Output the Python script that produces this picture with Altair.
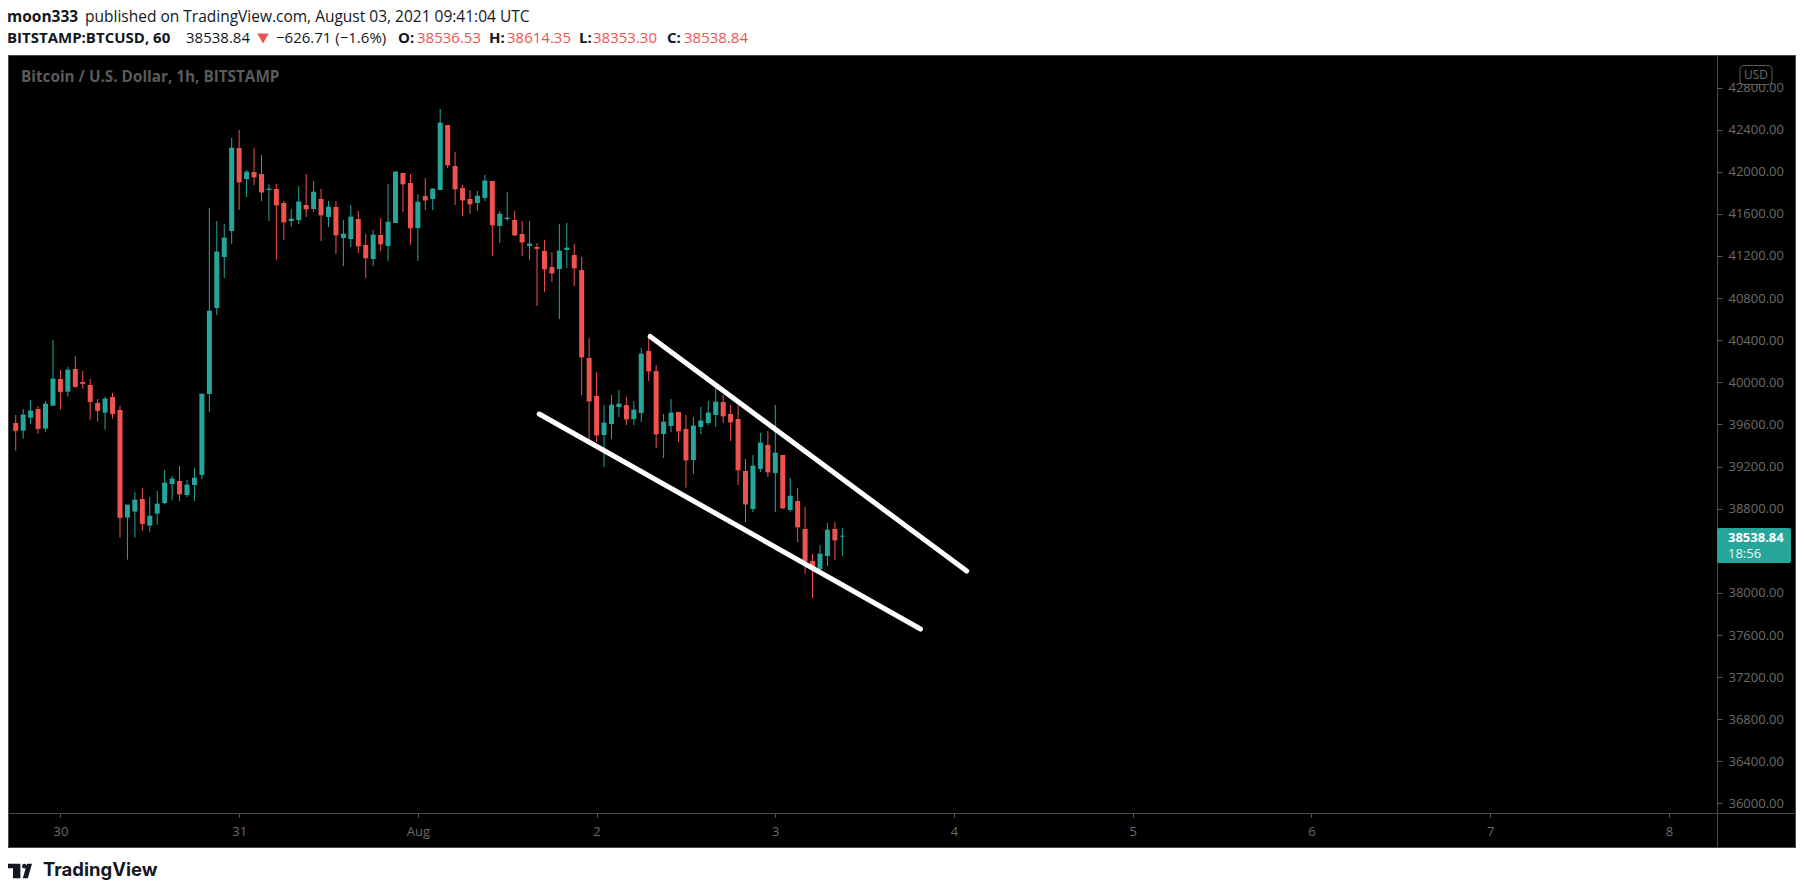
import altair as alt
import pandas as pd

# ---------------- data ----------------
first_bar = "2021-07-29 18:00"   # first hourly candle (UTC)

opens = [39614, 39541, 39664, 39747, 39560, 39778, 40032, 39911, 40127, 40003,
         39975, 39804, 39712, 39861, 39737, 38715, 38772, 38892, 38639, 38753,
         38854, 39034, 39063, 38930, 39025, 39120, 39889, 40706, 41190, 41437,
         42225, 41931, 41997, 41978, 41827, 41836, 41703, 41532, 41541, 41684,
         41646, 41741, 41570, 41665, 41370, 41361, 41551, 41304, 41171, 41399,
         41295, 41513, 41988, 41893, 41465, 41769, 41741, 41826, 42444, 42054,
         41845, 41741, 41703, 41751, 41912, 41485, 41551, 41542, 41409, 41295,
         41285, 41247, 41095, 41076, 41257, 41209, 41067, 40231, 39870, 39499,
         39604, 39765, 39784, 39651, 39709, 40297, 40107, 39509, 39585, 39718,
         39557, 39262, 39576, 39614, 39690, 39813, 39699, 39652, 39158, 38797,
         39177, 39405, 39139, 39310, 38787, 38873, 38607, 38303, 38227, 38350,
         38607, 38536.53]

highs = [39690, 39747, 39832, 39775, 39823, 40402, 40117, 40146, 40250, 40108,
         40032, 39842, 39861, 39899, 39775, 38835, 38958, 38996, 38911, 38968,
         39167, 39110, 39205, 39072, 39186, 39889, 41655, 41532, 41504, 42320,
         42396, 42016, 42225, 42159, 41883, 41883, 41722, 41646, 41864, 41978,
         41912, 41836, 41722, 41722, 41542, 41684, 41627, 41409, 41446, 41560,
         41883, 42007, 41988, 41978, 41788, 41941, 41845, 42596, 42444, 42187,
         41874, 41826, 41817, 41969, 41912, 41627, 41807, 41627, 41532, 41532,
         41323, 41352, 41238, 41504, 41513, 41314, 41190, 40421, 40098, 39784,
         39879, 39927, 39860, 39822, 40326, 40459, 40164, 39699, 39841, 39718,
         39689, 39670, 39766, 39823, 39975, 39880, 39785, 39794, 39272, 39310,
         39519, 39538, 39785, 39310, 39091, 38996, 38816, 38369, 38455, 38664,
         38673, 38614.35]

lows = [39351, 39465, 39604, 39512, 39531, 39778, 39740, 39864, 39949, 39940,
        39645, 39626, 39550, 39655, 38525, 38316, 38525, 38591, 38582, 38648,
        38844, 38882, 38873, 38911, 38873, 39082, 39718, 40639, 40991, 41314,
        41637, 41760, 41874, 41722, 41532, 41162, 41352, 41475, 41504, 41570,
        41618, 41342, 41475, 41219, 41105, 41285, 41228, 40991, 41105, 41247,
        41152, 41513, 41617, 41304, 41152, 41637, 41637, 41826, 42035, 41684,
        41580, 41599, 41627, 41722, 41200, 41323, 41532, 41390, 41200, 41162,
        40725, 40858, 40953, 40601, 41086, 40915, 39879, 39404, 39433, 39196,
        39462, 39670, 39594, 39594, 39623, 40012, 39376, 39281, 39528, 39433,
        39000, 39129, 39509, 39595, 39576, 39614, 39443, 39025, 38673, 38768,
        39148, 39101, 38768, 38797, 38768, 38483, 38179, 37951, 38179, 38255,
        38312, 38353.30]

closes = [39541, 39690, 39728, 39560, 39794, 40032, 39911, 40117, 39959, 39987,
          39816, 39731, 39842, 39702, 38715, 38835, 38882, 38658, 38730, 38844,
          39044, 39082, 38939, 39025, 39091, 39889, 40677, 41238, 41371, 42225,
          41902, 41997, 41950, 41807, 41836, 41684, 41523, 41551, 41713, 41646,
          41807, 41589, 41665, 41399, 41409, 41570, 41295, 41181, 41399, 41314,
          41522, 41997, 41884, 41466, 41712, 41731, 41836, 42463, 42064, 41836,
          41731, 41694, 41769, 41912, 41494, 41598, 41561, 41399, 41333, 41314,
          41269, 41076, 41038, 41247, 41276, 41086, 40240, 39822, 39499, 39614,
          39784, 39794, 39651, 39737, 40269, 40107, 39509, 39623, 39709, 39538,
          39262, 39585, 39633, 39709, 39813, 39680, 39623, 39167, 38844, 39205,
          39424, 39148, 39329, 38806, 38920, 38626, 38303, 38236, 38369, 38597,
          38502, 38538.84]

# hand-drawn trend lines (two points each)
trend_names = ["upper", "upper", "lower", "lower"]
trend_times = ["2021-08-02T07:12:00Z", "2021-08-04T01:42:00Z",
               "2021-08-01T16:18:00Z", "2021-08-03T19:30:00Z"]
trend_prices = [40435, 38208, 39699, 37657]

# 38400 is hidden behind the last-price tag in the reference
price_ticks = [36000, 36400, 36800, 37200, 37600, 38000, 38800, 39200,
               39600, 40000, 40400, 40800, 41200, 41600, 42000, 42400, 42800]
day_ticks = [(7, 30), (7, 31), (8, 1), (8, 2), (8, 3), (8, 4), (8, 5), (8, 6), (8, 7), (8, 8)]

# texts
header_user = "moon333"
header_rest = "published on TradingView.com, August 03, 2021 09:41:04 UTC"
sym_text = "BITSTAMP:BTCUSD, 60"
last_text = "38538.84"
change_text = "\u2212626.71 (\u22121.6%)"
ohlc_labels = ["O:", "H:", "L:", "C:"]
ohlc_values = ["38536.53", "38614.35", "38353.30", "38538.84"]
chart_title = "Bitcoin / U.S. Dollar, 1h, BITSTAMP"
currency = "USD"
price_tag = "38538.84"
countdown = "18:56"
brand = "TradingView"

# ---------------- styling ----------------
GREEN = "#26a69a"
RED = "#ef5350"
INK = "#131722"
AX_TXT = "#6b6b6b"
BORDER = "#4a4a4a"
FONT = "Open Sans"

times = pd.date_range(first_bar, periods=len(opens), freq="h")
candles = pd.DataFrame({
    "t": [t.strftime("%Y-%m-%dT%H:%M:%SZ") for t in times],
    "open": opens, "high": highs, "low": lows, "close": closes,
})
candles["dir"] = ["up" if c >= o else "down" for o, c in zip(opens, closes)]

trend = pd.DataFrame({"line": trend_names, "t": trend_times, "price": trend_prices})
one = pd.DataFrame({"k": [0]})

xscale = alt.Scale(type="utc", domain=[
    alt.DateTime(year=2021, month=7, date=29, hours=17, minutes=38, utc=True),
    alt.DateTime(year=2021, month=8, date=8, hours=5, minutes=47, utc=True)])
yscale = alt.Scale(domain=[35909.5, 43108.7], nice=False, zero=False)

xaxis = alt.Axis(
    values=[alt.DateTime(year=2021, month=m, date=d, utc=True) for m, d in day_ticks],
    labelExpr="utcdate(datum.value) == 1 ? utcFormat(datum.value, '%b') : '' + utcdate(datum.value)",
    tickSize=4, tickColor="#5a5a5a", labelColor=AX_TXT, labelFont=FONT, labelFontSize=13,
    labelPadding=14, labelBaseline="middle", domain=False, grid=False, title=None,
    labelFlush=False, labelOverlap=False)
yaxis = alt.Axis(
    orient="right", values=price_ticks, format=".2f", tickSize=5, tickColor="#5a5a5a",
    labelColor=AX_TXT, labelFont=FONT, labelFontSize=13, labelPadding=6,
    domain=False, grid=False, title=None, labelOverlap=False)

color = alt.Color("dir:N", scale=alt.Scale(domain=["up", "down"], range=[GREEN, RED]), legend=None)

base = alt.Chart(candles).encode(x=alt.X("t:T", scale=xscale, axis=xaxis, title=None), color=color)
wicks = base.mark_rule(strokeWidth=1).encode(
    y=alt.Y("low:Q", scale=yscale, axis=yaxis, title=None), y2="high:Q")
bodies = base.mark_bar(size=5).encode(y=alt.Y("open:Q", title=None), y2="close:Q")
closeticks = base.mark_tick(orient="horizontal", size=5, thickness=1).encode(
    y=alt.Y("close:Q", title=None))

lines = alt.Chart(trend).mark_line(strokeWidth=5, strokeCap="round", color="white").encode(
    x="t:T", y=alt.Y("price:Q", title=None), detail="line:N")


def box(x, x2, y, y2, **kw):
    return alt.Chart(one).mark_rect(**kw).encode(
        x=alt.value(x), x2=alt.value(x2), y=alt.value(y), y2=alt.value(y2))


def label(txt, x, y, size=15, weight="normal", col=INK, font=FONT, align="left"):
    return alt.Chart(one).mark_text(align=align, baseline="middle", font=font, fontSize=size,
                                    fontWeight=weight, color=col).encode(
        x=alt.value(x), y=alt.value(y), text=alt.value(txt))


header_bg = box(-8, 1800, -50, 0, color="white")
footer_bg = box(-8, 1800, 793, 840, color="white")
frame = box(0.5, 1787.5, 0.5, 792.5, fillOpacity=0, stroke=BORDER, strokeWidth=1)
vdiv = alt.Chart(one).mark_rule(color=BORDER, strokeWidth=1).encode(
    x=alt.value(1709.5), y=alt.value(0), y2=alt.value(793))
hdiv = alt.Chart(one).mark_rule(color=BORDER, strokeWidth=1).encode(
    x=alt.value(0), x2=alt.value(1788), y=alt.value(758.5))

usd_box = box(1732, 1764, 10.5, 29.5, color="black", stroke="#5c5c5c", strokeWidth=1, cornerRadius=4)
usd_txt = label(currency, 1748, 20, size=12, col=AX_TXT, align="center")

tag_box = box(1709, 1783, 473, 508, color=GREEN, cornerRadius=2)
tag_txt1 = label(price_tag, 1720, 483, size=13, weight="bold", col="white")
tag_txt2 = label(countdown, 1720, 499, size=13, col="#e8f5f3")

title_txt = label(chart_title, 13, 22, size=15.3, weight="bold", col="#5b5b5b")

h1a = label(header_user, -1, -38.5, size=15.5, weight="bold")
h1b = label(header_rest, 77, -38.5, size=15.5)
h2a = label(sym_text, -1, -17, weight="bold")
h2b = label(last_text, 178, -17)
tri = alt.Chart(one).mark_point(shape="triangle-down", filled=True, size=130, color=RED, opacity=1).encode(
    x=alt.value(255), y=alt.value(-16.5))
h2c = label(change_text, 268, -17)
ohlc = []
for lab, val, lx, vx in zip(ohlc_labels, ohlc_values, [390, 481, 571, 659], [409, 499, 585, 676]):
    ohlc.append(label(lab, lx, -17, weight="bold"))
    ohlc.append(label(val, vx, -17, col=RED))

logo_path = ("M-1,-0.596L0.033,-0.596L0.033,0.596L-0.583,0.596L-0.583,-0.2375L-1,-0.2375Z"
             "M0.166,-0.404A0.192,0.192,0,1,0,0.55,-0.404A0.192,0.192,0,1,0,0.166,-0.404Z"
             "M0.233,0.596L0.65,0.596L1,-0.596L0.583,-0.596Z")
logo_icon = alt.Chart(one).mark_point(shape=logo_path, filled=True, size=576, color=INK, opacity=1).encode(
    x=alt.value(12), y=alt.value(816))
logo_txt = label(brand, 35, 815, size=18.5, weight="bold", font="Inter")

chart = alt.layer(
    header_bg, footer_bg, frame, vdiv, hdiv,
    wicks, bodies, closeticks, lines,
    usd_box, usd_txt, tag_box, tag_txt1, tag_txt2, title_txt,
    h1a, h1b, h2a, h2b, tri, h2c, *ohlc,
    logo_icon, logo_txt,
).properties(
    width=1709, height=758,
    autosize=alt.AutoSizeParams(type="none"),
    padding={"left": 0, "top": 47, "right": 79, "bottom": 69},
    background="black",
).configure_view(strokeWidth=0)

chart.save("out.html", embed_options={"renderer": "svg", "actions": False})
